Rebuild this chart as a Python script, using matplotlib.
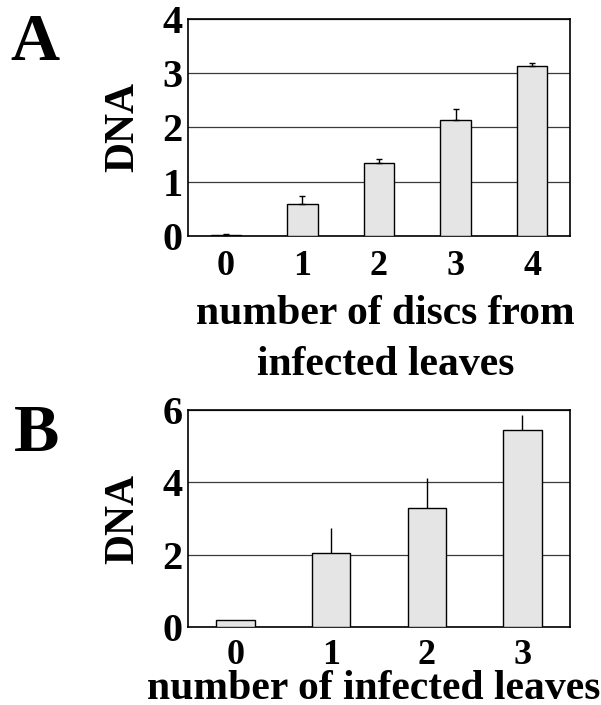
import numpy as np
import matplotlib
matplotlib.use('Agg')
import matplotlib.pyplot as plt

#---    Data
cats_a = ['0', '1', '2', '3', '4']
dna_a = [0.02, 0.58, 1.34, 2.13, 3.14]
err_a = [0.01, 0.15, 0.07, 0.21, 0.05]

cats_b = ['0', '1', '2', '3']
dna_b = [0.20, 2.04, 3.29, 5.44]
err_b = [0.0, 0.70, 0.83, 0.41]

plt.rcParams['font.family'] = ['Liberation Serif', 'DejaVu Serif']
plt.rcParams['font.weight'] = 'bold'

fig = plt.figure(figsize=(6.01, 7.05), dpi=100)

def panel(rect, cats, vals, errs, ymax, ystep, capsize, xpad):
    ax = fig.add_axes(rect)
    x = np.arange(len(cats))
    ax.bar(x, vals, width=0.4, color='#e5e5e5', edgecolor='black', linewidth=1.0, zorder=3)
    ax.errorbar(x, vals, yerr=[np.zeros(len(errs)), errs], fmt='none', ecolor='black',
                elinewidth=1.0, capsize=capsize, capthick=1.0, zorder=4)
    ax.set_xlim(-0.5, len(cats) - 0.5)
    ax.set_ylim(0, ymax)
    ax.set_yticks(np.arange(0, ymax + 0.1, ystep))
    ax.set_xticks(x)
    ax.set_xticklabels(cats)
    ax.yaxis.grid(True, color='#3a3a3a', linewidth=0.9, zorder=0)
    ax.tick_params(axis='both', length=0)
    ax.tick_params(axis='y', labelsize=29, pad=3.5)
    ax.tick_params(axis='x', labelsize=26, pad=xpad)
    for s in ax.spines.values():
        s.set_linewidth(1.2)
    ax.set_ylabel('DNA', fontsize=30, fontweight='bold')
    ax.yaxis.set_label_coords(-0.118, 0.5)
    return ax

ax1 = panel([0.3123, 0.6657, 0.6366, 0.307], cats_a, dna_a, err_a, 4, 1, 2.5, 10)
# va='baseline' on a two-line label anchors the last line
ax1.set_xlabel('number of discs from\ninfected leaves', fontsize=30, fontweight='bold',
               linespacing=1.45, va='baseline')
ax1.xaxis.set_label_coords(0.517, -0.6437)

ax2 = panel([0.3123, 0.1106, 0.6366, 0.3078], cats_b, dna_b, err_b, 6, 2, 0, 8.5)
ax2.set_xlabel('number of infected leaves', fontsize=30, fontweight='bold', va='baseline')
ax2.xaxis.set_label_coords(0.4864, -0.333)

fig.text(10 / 601, 1 - 60 / 705, 'A', fontsize=49, fontweight='bold', va='baseline', ha='left')
fig.text(14 / 601, 1 - 451 / 705, 'B', fontsize=49, fontweight='bold', va='baseline', ha='left')

plt.savefig('out.png', dpi=100)
